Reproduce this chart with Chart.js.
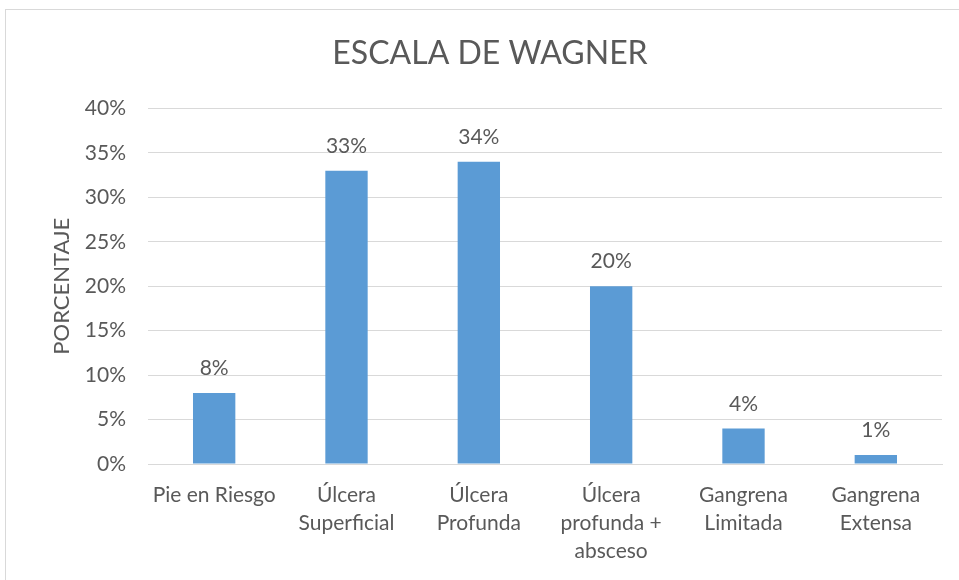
<!DOCTYPE html>
<html>
<head>
<meta charset="utf-8">
<script src="https://cdn.jsdelivr.net/npm/chart.js@4/dist/chart.umd.min.js"></script>
<style>
html,body{margin:0;padding:0;background:#fff;}
#wrap{position:relative;width:959px;height:580px;}
</style>
</head>
<body>
<div id="wrap"><canvas id="c" width="959" height="580"></canvas></div>
<script>
const categories = [
  'Pie en Riesgo',
  ['Úlcera', 'Superficial'],
  ['Úlcera', 'Profunda'],
  ['Úlcera', 'profunda +', 'absceso'],
  ['Gangrena', 'Limitada'],
  ['Gangrena', 'Extensa']
];
const percentages = [8, 33, 34, 20, 4, 1];
const yTicks = [0, 5, 10, 15, 20, 25, 30, 35, 40];

const TEXT = '#595959';
const FONT = 'Lato, "Open Sans", sans-serif';

const framePlugin = {
  id: 'frame',
  beforeDraw(chart) {
    const ctx = chart.ctx;
    ctx.save();
    ctx.fillStyle = '#fff';
    ctx.fillRect(0, 0, chart.width, chart.height);
    ctx.strokeStyle = '#d9d9d9';
    ctx.lineWidth = 1;
    ctx.strokeRect(5.5, 9.5, chart.width + 20, chart.height + 20);
    ctx.restore();
  }
};

const labelPlugin = {
  id: 'barLabels',
  afterDatasetsDraw(chart) {
    const ctx = chart.ctx;
    const meta = chart.getDatasetMeta(0);
    ctx.save();
    ctx.fillStyle = TEXT;
    ctx.font = '21px ' + FONT;
    ctx.textAlign = 'center';
    ctx.textBaseline = 'bottom';
    meta.data.forEach((bar, i) => {
      ctx.fillText(percentages[i] + '%', bar.x, bar.y - 14);
    });
    ctx.restore();
  }
};

new Chart(document.getElementById('c'), {
  type: 'bar',
  data: {
    labels: categories,
    datasets: [{
      data: percentages,
      backgroundColor: '#5b9bd5',
      borderWidth: 0,
      barPercentage: 0.32,
      categoryPercentage: 1
    }]
  },
  options: {
    responsive: false,
    animation: false,
    devicePixelRatio: 1,
    layout: { padding: { left: 38, right: 17, top: 0, bottom: 0 } },
    plugins: {
      legend: { display: false },
      tooltip: { enabled: false },
      title: {
        display: true,
        text: 'ESCALA DE WAGNER',
        color: TEXT,
        font: { family: FONT, size: 32, weight: 'normal' },
        padding: { top: 34, bottom: 36 }
      }
    },
    scales: {
      x: {
        grid: { display: false, drawTicks: false },
        border: { display: true, color: '#d9d9d9' },
        ticks: {
          color: TEXT,
          font: { family: FONT, size: 21, lineHeight: 1.33 },
          padding: 17,
          maxRotation: 0,
          autoSkip: false
        },
        afterFit(scale) { scale.height = 116; }
      },
      y: {
        min: 0,
        max: 40,
        afterBuildTicks(scale) { scale.ticks = yTicks.map(v => ({ value: v })); },
        grid: { color: '#d9d9d9', drawTicks: false },
        border: { display: false },
        ticks: {
          color: TEXT,
          font: { family: FONT, size: 21 },
          padding: 22,
          callback: v => v + '%'
        },
        title: {
          display: true,
          text: 'PORCENTAJE',
          color: TEXT,
          font: { family: FONT, size: 22, weight: 'normal' },
          padding: { top: 11, bottom: 0 }
        },
        afterFit(scale) { scale.width = 110; }
      }
    }
  },
  plugins: [framePlugin, labelPlugin]
});
</script>
</body>
</html>
